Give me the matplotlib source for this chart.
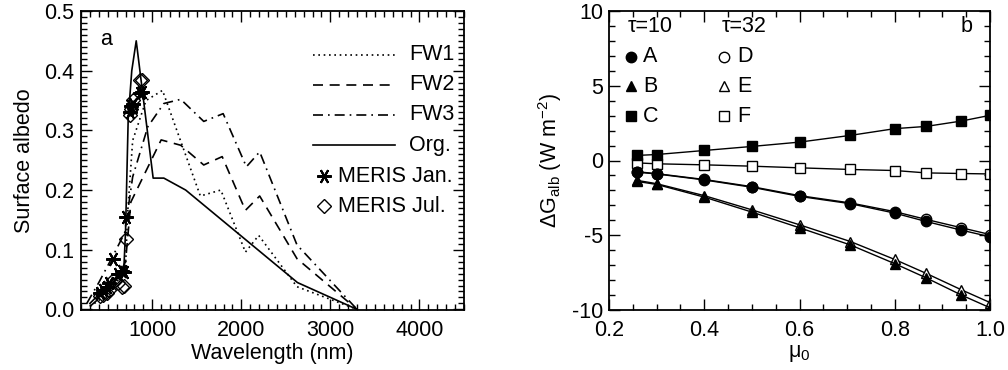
import matplotlib
matplotlib.use("Agg")
import matplotlib.pyplot as plt
from matplotlib.ticker import MultipleLocator

plt.rcParams['font.family'] = ['Liberation Sans', 'DejaVu Sans']
plt.rcParams['mathtext.fontset'] = 'custom'
plt.rcParams['mathtext.rm'] = 'Liberation Sans'
plt.rcParams['mathtext.it'] = 'Liberation Sans:italic'
plt.rcParams['axes.unicode_minus'] = False

FS = 15.5

# ---------------- Panel a data ----------------
org_wl = [300, 400, 500, 600, 680, 700, 730, 770, 820, 1010, 1130, 1375, 2630, 3300]
org_al = [0.010, 0.025, 0.040, 0.055, 0.065, 0.13, 0.32, 0.40, 0.45, 0.22, 0.22, 0.20, 0.045, 0.0]

fw1_wl = [300, 400, 500, 600, 700, 723, 780, 930, 1115, 1540, 1770, 2046, 2195, 2625, 3300]
fw1_al = [0.005, 0.015, 0.030, 0.045, 0.070, 0.16, 0.283, 0.35, 0.367, 0.19, 0.20, 0.096, 0.124, 0.038, 0.0]

fw2_wl = [300, 400, 500, 600, 700, 760, 1100, 1320, 1578, 1785, 2046, 2206, 2625, 3300]
fw2_al = [0.005, 0.018, 0.035, 0.050, 0.080, 0.18, 0.284, 0.275, 0.242, 0.256, 0.166, 0.19, 0.085, 0.0]

fw3_wl = [265, 400, 560, 690, 780, 950, 1130, 1320, 1578, 1796, 2057, 2206, 2625, 3300]
fw3_al = [0.010, 0.045, 0.090, 0.128, 0.222, 0.306, 0.345, 0.352, 0.315, 0.328, 0.239, 0.264, 0.108, 0.0]

meris_wl = [412, 443, 490, 510, 560, 620, 665, 681, 709, 754, 761, 779, 865, 885]
meris_jan = [0.028, 0.032, 0.038, 0.045, 0.085, 0.060, 0.065, 0.062, 0.155, 0.330, 0.340, 0.345, 0.362, 0.365]
meris_jul = [0.022, 0.024, 0.028, 0.032, 0.050, 0.045, 0.038, 0.040, 0.118, 0.326, 0.335, 0.351, 0.384, 0.385]

# ---------------- Panel b data ----------------
mu0 = [0.259, 0.300, 0.400, 0.500, 0.600, 0.707, 0.800, 0.866, 0.940, 1.000]
dG_A = [-0.78, -0.90, -1.30, -1.79, -2.40, -2.89, -3.52, -4.08, -4.66, -5.10]
dG_B = [-1.40, -1.60, -2.45, -3.45, -4.50, -5.65, -6.90, -7.85, -9.00, -9.85]
dG_C = [0.34, 0.40, 0.67, 0.94, 1.23, 1.68, 2.13, 2.28, 2.64, 3.02]
dG_D = [-0.75, -0.88, -1.27, -1.75, -2.35, -2.84, -3.42, -3.94, -4.50, -4.95]
dG_E = [-1.33, -1.55, -2.35, -3.30, -4.30, -5.42, -6.62, -7.55, -8.65, -9.50]
dG_F = [-0.16, -0.22, -0.29, -0.38, -0.49, -0.60, -0.67, -0.83, -0.87, -0.90]

fig = plt.figure(figsize=(10.08, 3.70), dpi=100)
ax1 = fig.add_axes([81/1008, 1-310/370, (464-81)/1008, (310-11)/370])
ax2 = fig.add_axes([609/1008, 1-310/370, (990-609)/1008, (310-11)/370])

def style_axes(ax):
    for s in ax.spines.values():
        s.set_linewidth(1.3)
    ax.tick_params(which='both', direction='in', top=True, right=True,
                   labelsize=FS, width=1.0)
    ax.tick_params(which='major', length=8)
    ax.tick_params(which='minor', length=4)

lw = 1.2
ast = (6, 2, 90)
AST_MS = 10.5
ax1.plot(fw1_wl, fw1_al, color='black', lw=lw, ls=(0, (1, 2.2)))
ax1.plot(fw2_wl, fw2_al, color='black', lw=lw, ls=(0, (6, 4)))
ax1.plot(fw3_wl, fw3_al, color='black', lw=lw, ls=(0, (6, 3, 1, 3)))
ax1.plot(org_wl, org_al, color='black', lw=lw, ls='-')
ax1.plot(meris_wl, meris_jan, ls='none', marker=ast, ms=AST_MS, mec='black', mew=1.5)
ax1.plot(meris_wl, meris_jul, ls='none', marker='D', ms=7, mfc='none', mec='black', mew=1.0)

ax1.set_xlim(200, 4500)
ax1.set_ylim(-0.001, 0.5)
ax1.xaxis.set_major_locator(MultipleLocator(1000))
ax1.xaxis.set_minor_locator(MultipleLocator(100))
ax1.yaxis.set_major_locator(MultipleLocator(0.1))
ax1.yaxis.set_minor_locator(MultipleLocator(0.01))
ax1.yaxis.set_major_formatter(matplotlib.ticker.FormatStrFormatter('%.1f'))
style_axes(ax1)
ax1.tick_params(axis='x', pad=7)
ax1.tick_params(axis='y', pad=5)
ax1.set_xlabel('Wavelength (nm)', fontsize=FS, labelpad=2)
ax1.set_ylabel('Surface albedo', fontsize=FS, labelpad=6)
ax1.text(0.05, 0.905, 'a', transform=ax1.transAxes, fontsize=FS, va='center', ha='left')

# legend (panel a), drawn manually in axes coordinates
W = 464 - 81
H = 310 - 11
def axx(px):
    return (px - 81) / W
def axy(py):
    return (310 - py) / H
rows = [55, 85, 115, 145, 176, 206]
styles = [(0, (1, 2.2)), (0, (6, 4)), (0, (6, 3, 1, 3)), '-']
names = ['FW1', 'FW2', 'FW3', 'Org.']
for r, st, nm in zip(rows[:4], styles, names):
    ax1.plot([axx(313), axx(395)], [axy(r), axy(r)], transform=ax1.transAxes,
             color='black', lw=lw, ls=st, clip_on=False)
    ax1.text(axx(409), axy(r), nm, transform=ax1.transAxes, fontsize=FS, va='center', ha='left')
ax1.plot([axx(324)], [axy(rows[4])], transform=ax1.transAxes, marker=ast, ms=AST_MS,
         mec='black', mew=1.5, ls='none')
ax1.text(axx(338), axy(rows[4]), 'MERIS Jan.', transform=ax1.transAxes, fontsize=FS, va='center', ha='left')
ax1.plot([axx(324)], [axy(rows[5])], transform=ax1.transAxes, marker='D', ms=7,
         mfc='none', mec='black', mew=1.0, ls='none')
ax1.text(axx(338), axy(rows[5]), 'MERIS Jul.', transform=ax1.transAxes, fontsize=FS, va='center', ha='left')

# ---------------- Panel b ----------------
ms = 7.5
ax2.plot(mu0, dG_F, color='black', lw=1.0, marker='s', ms=ms, mfc='white', mec='black', mew=1.0)
ax2.plot(mu0, dG_C, color='black', lw=1.0, marker='s', ms=ms, mfc='black', mec='black')
ax2.plot(mu0, dG_D, color='black', lw=1.0, marker='o', ms=ms, mfc='white', mec='black', mew=1.0)
ax2.plot(mu0, dG_A, color='black', lw=1.0, marker='o', ms=ms, mfc='black', mec='black')
ax2.plot(mu0, dG_E, color='black', lw=1.0, marker='^', ms=ms, mfc='white', mec='black', mew=1.0)
ax2.plot(mu0, dG_B, color='black', lw=1.0, marker='^', ms=ms, mfc='black', mec='black')

ax2.set_xlim(0.2, 1.0)
ax2.set_ylim(-10, 10)
ax2.xaxis.set_major_locator(MultipleLocator(0.2))
ax2.xaxis.set_minor_locator(MultipleLocator(0.05))
ax2.yaxis.set_major_locator(MultipleLocator(5))
ax2.yaxis.set_minor_locator(MultipleLocator(1))
ax2.xaxis.set_major_formatter(matplotlib.ticker.FormatStrFormatter('%.1f'))
style_axes(ax2)
ax2.tick_params(axis='x', pad=7)
ax2.tick_params(axis='y', pad=4)
ax2.set_xlabel('μ$_0$', fontsize=FS, labelpad=2)
ax2.set_ylabel('ΔG$_{\\rm alb}$ (W m$^{-2}$)', fontsize=FS, labelpad=6)

W2 = 990 - 609
def bx(px):
    return (px - 609) / W2
ax2.text(bx(628), axy(27), 'τ=10', transform=ax2.transAxes, fontsize=FS, va='center', ha='left')
ax2.text(bx(722), axy(27), 'τ=32', transform=ax2.transAxes, fontsize=FS, va='center', ha='left')
ax2.text(bx(973), axy(27), 'b', transform=ax2.transAxes, fontsize=FS, va='center', ha='right')
leg_rows = [57, 86, 116]
for r, mk, l1, l2 in zip(leg_rows, ['o', '^', 's'], ['A', 'B', 'C'], ['D', 'E', 'F']):
    ax2.plot([bx(631)], [axy(r)], transform=ax2.transAxes, marker=mk, ms=ms,
             mfc='black', mec='black', ls='none')
    ax2.text(bx(643), axy(r), l1, transform=ax2.transAxes, fontsize=FS, va='center', ha='left')
    ax2.plot([bx(724)], [axy(r)], transform=ax2.transAxes, marker=mk, ms=ms,
             mfc='white', mec='black', mew=1.0, ls='none')
    ax2.text(bx(737), axy(r), l2, transform=ax2.transAxes, fontsize=FS, va='center', ha='left')

fig.savefig('out.png', dpi=100)
